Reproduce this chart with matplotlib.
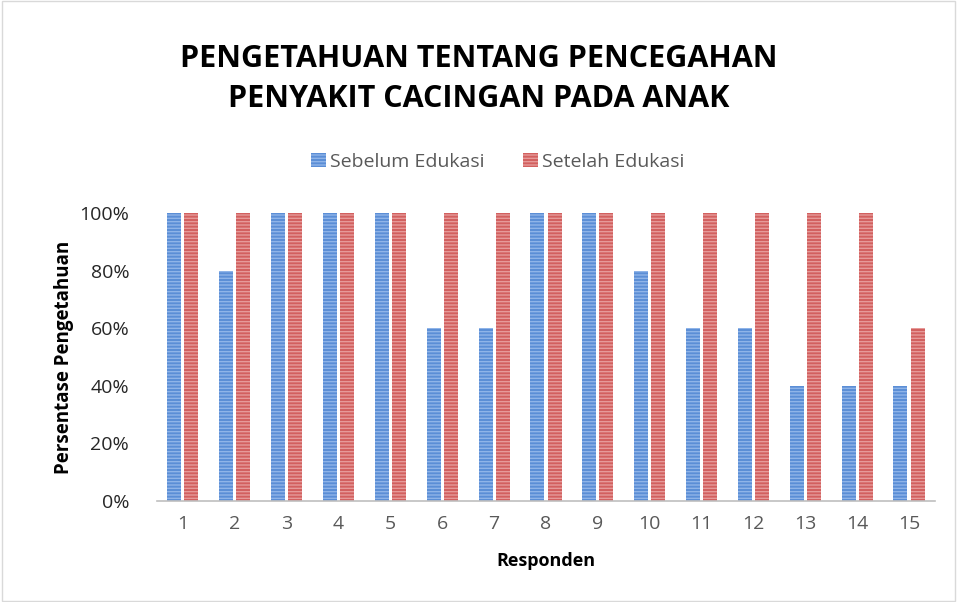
import numpy as np
import matplotlib.pyplot as plt
from matplotlib.patches import Rectangle

plt.rcParams['font.family'] = ['Open Sans', 'DejaVu Sans']
plt.rcParams['hatch.linewidth'] = 1.0

responden = [str(i) for i in range(1, 16)]
sebelum = [100, 80, 100, 100, 100, 60, 60, 100, 100, 80, 60, 60, 40, 40, 40]
setelah = [100, 100, 100, 100, 100, 100, 100, 100, 100, 100, 100, 100, 100, 100, 60]
yticks = [0, 20, 40, 60, 80, 100]

colors = {
    'blue': '#5b8ed6',
    'blue_line': '#8fb4e8',
    'red': '#d2605f',
    'red_line': '#e69a99',
    'text': '#595959',
    'axis': '#bfbfbf',
}

fig = plt.figure(figsize=(9.57, 6.02), dpi=100)
ax = fig.add_axes([0.164, 0.168, 0.813, 0.478])

x = np.arange(len(responden))
w = 0.27
off = 0.165
ax.bar(x - off, sebelum, width=w, color=colors['blue'], edgecolor=colors['blue_line'],
       hatch='-----', linewidth=0, label='Sebelum Edukasi')
ax.bar(x + off, setelah, width=w, color=colors['red'], edgecolor=colors['red_line'],
       hatch='-----', linewidth=0, label='Setelah Edukasi')

ax.set_xlim(-0.5, len(responden) - 0.5)
ax.set_ylim(0, 100)
ax.set_xticks(x)
ax.set_xticklabels(responden)
ax.set_yticks(yticks)
ax.set_yticklabels([f'{v}%' for v in yticks])
ax.tick_params(axis='x', length=0, labelsize=14, colors=colors['text'], pad=10)
ax.tick_params(axis='y', length=0, labelsize=14, colors='#262626', pad=20)

for s in ['top', 'right', 'left']:
    ax.spines[s].set_visible(False)
ax.spines['bottom'].set_color(colors['axis'])
ax.spines['bottom'].set_linewidth(1.2)

ax.set_xlabel('Responden', fontsize=13, fontweight='bold', labelpad=14)
ax.set_ylabel('Persentase Pengetahuan', fontsize=13.5, fontweight='bold', labelpad=4)

fig.text(0.5, 0.869, 'PENGETAHUAN TENTANG PENCEGAHAN\nPENYAKIT CACINGAN PADA ANAK',
         ha='center', va='center', fontsize=22, fontweight='bold', color='black',
         linespacing=1.45)

leg = fig.legend(loc='center', bbox_to_anchor=(0.52, 0.731), ncol=2, frameon=False,
                 fontsize=14, handlelength=0.75, handleheight=0.75, columnspacing=2.0,
                 handletextpad=0.2)
for t in leg.get_texts():
    t.set_color(colors['text'])

fig.patches.append(Rectangle((0.002, 0.002), 0.996, 0.996, transform=fig.transFigure,
                             fill=False, edgecolor='#d9d9d9', linewidth=1))

fig.savefig('out.png', dpi=100)
